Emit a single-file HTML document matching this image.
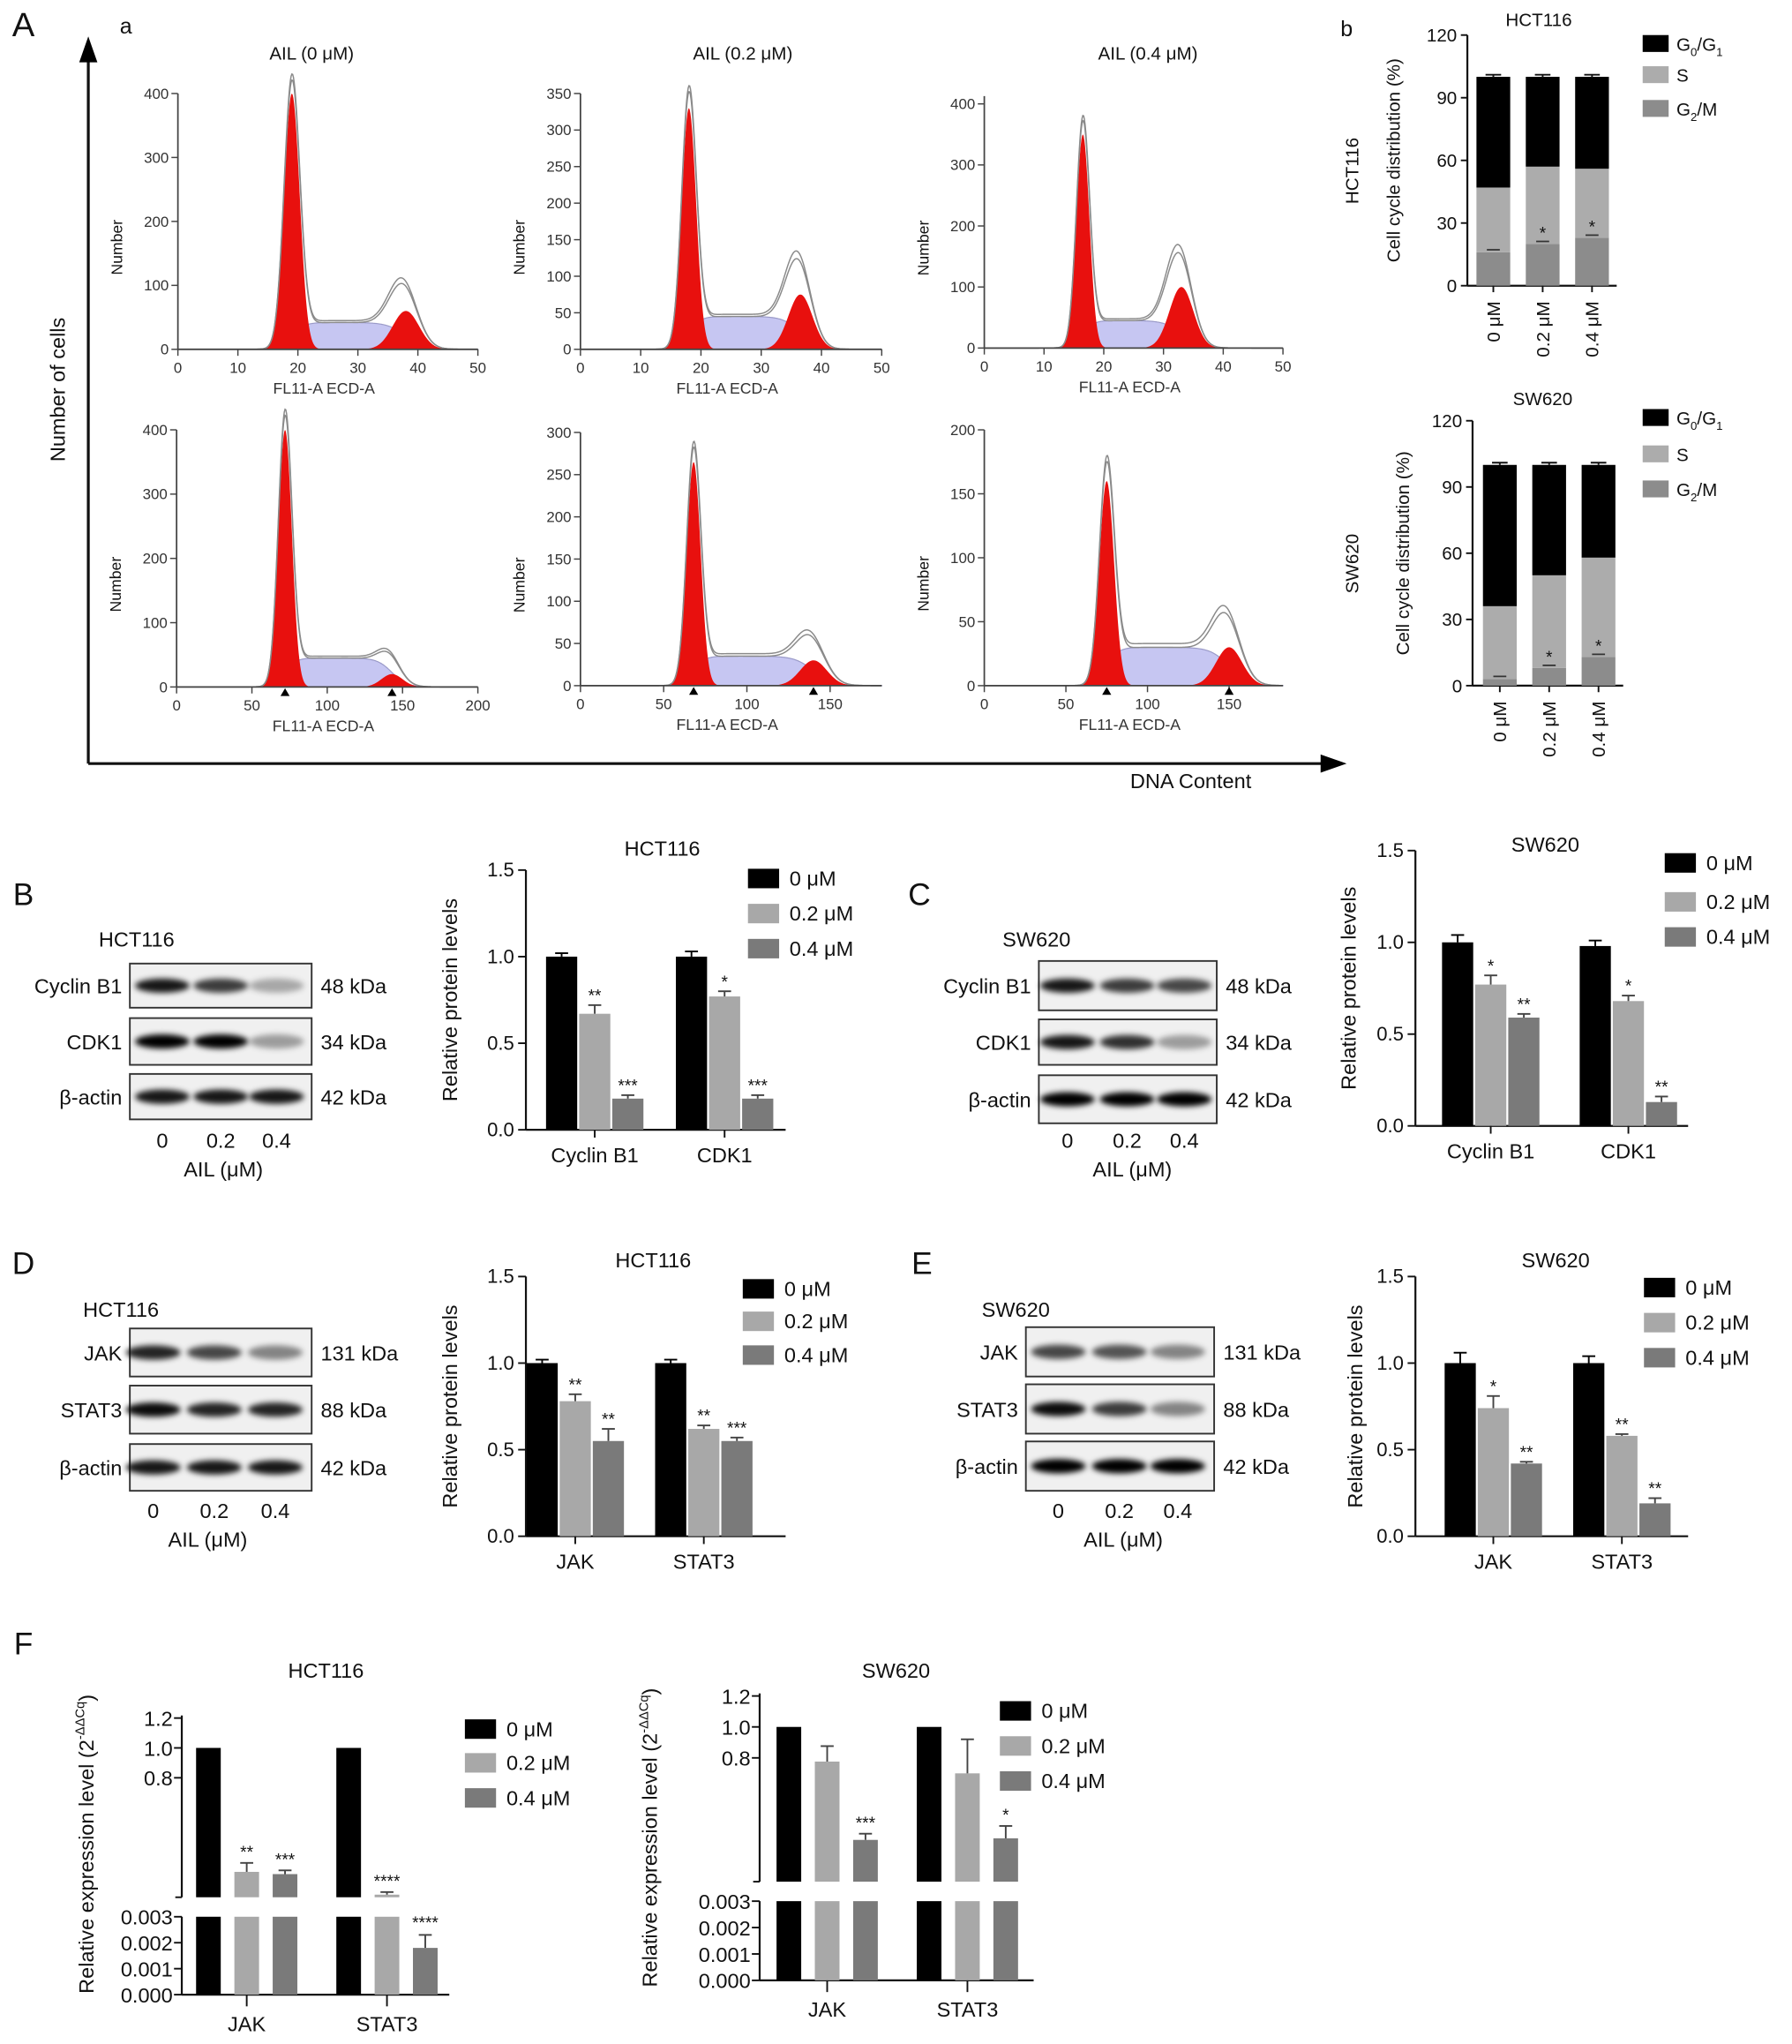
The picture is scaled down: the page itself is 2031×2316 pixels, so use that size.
<!DOCTYPE html>
<html><head><meta charset="utf-8">
<style>
html,body{margin:0;padding:0;background:#fff;}
svg{display:block;font-family:"Liberation Sans",Arial,sans-serif;}
</style></head>
<body>
<svg id="fig" width="2031" height="2316" viewBox="0 0 1380 1574" preserveAspectRatio="none" xmlns="http://www.w3.org/2000/svg">
<defs>
<filter id="blur" x="-50%" y="-100%" width="200%" height="300%"><feGaussianBlur stdDeviation="2.2"/></filter>
</defs>
</svg>
<script>
// ---------- DATA ----------
const histG1Mean=[19,18,16.5,72,68,75];
const histG1Height=[400,330,350,400,265,160];
const histG1Sd=[1.3,1.2,1.1,4.5,4.2,4.5];
const histSLevel=[42,45,45,45,35,30];
const histG2Mean=[38,36.5,33,143,140,150];
const histG2Height=[60,75,100,20,30,30];
const histG2Sd=[2.2,2,2,7,8,8];
const histTitles=['AIL  (0 \u03bcM)','AIL (0.2 \u03bcM)','AIL (0.4 \u03bcM)'];
const cycleDoses=['0 \u03bcM','0.2 \u03bcM','0.4 \u03bcM'];
const hctG2M=[16,20,23];
const hctS=[31,37,33];
const hctG0G1=[53,43,44];
const swG2M=[3,8,13];
const swS=[33,42,45];
const swG0G1=[64,50,42];
const cycleTicks=[0,30,60,90,120];
const bGroups=['Cyclin B1','CDK1'];
const bV0=[1.0,1.0];const bV2=[0.67,0.77];const bV4=[0.18,0.18];
const bE0=[0.02,0.03];const bE2=[0.05,0.03];const bE4=[0.02,0.02];
const bS2=['**','*'];const bS4=['***','***'];
const cGroups=['Cyclin B1','CDK1'];
const cV0=[1.0,0.98];const cV2=[0.77,0.68];const cV4=[0.59,0.13];
const cE0=[0.04,0.03];const cE2=[0.05,0.03];const cE4=[0.02,0.03];
const cS2=['*','*'];const cS4=['**','**'];
const dGroups=['JAK','STAT3'];
const dV0=[1.0,1.0];const dV2=[0.78,0.62];const dV4=[0.55,0.55];
const dE0=[0.02,0.02];const dE2=[0.04,0.02];const dE4=[0.07,0.02];
const dS2=['**','**'];const dS4=['**','***'];
const eGroups=['JAK','STAT3'];
const eV0=[1.0,1.0];const eV2=[0.74,0.58];const eV4=[0.42,0.19];
const eE0=[0.06,0.04];const eE2=[0.07,0.01];const eE4=[0.01,0.03];
const eS2=['*','**'];const eS4=['**','**'];
const protTicks=[0,0.5,1.0,1.5];
const fGroups=['JAK','STAT3'];
const fHV0=[1.0,1.0];const fHV2=[0.17,0.012];const fHV4=[0.155,0.0018];
const fHE2=[0.06,0.003];const fHE4=[0.025,0.0005];
const fHS2=['**','****'];const fHS4=['***','****'];
const fSV0=[1.0,1.0];const fSV2=[0.776,0.70];const fSV4=[0.27,0.28];
const fSE2=[0.10,0.22];const fSE4=[0.04,0.08];
const fSS2=['',''];const fSS4=['***','*'];
const fTopTicks=[0.8,1.0,1.2];
const fBotTicks=[0,0.001,0.002,0.003];
const legendDoses=['0 \u03bcM','0.2 \u03bcM','0.4 \u03bcM'];

// ---------- HELPERS ----------
const NS='http://www.w3.org/2000/svg';
const svg=document.getElementById('fig');
function el(tag,attrs,name,parent){
  const e=document.createElementNS(NS,tag);
  for(const k in attrs)e.setAttribute(k,attrs[k]);
  
  
  (parent||svg).appendChild(e);return e;
}
function txt(x,y,s,size,name,anchor,extra){
  const a={x:x,y:y,'font-size':size,'text-anchor':anchor||'middle',fill:'#111'};
  if(extra)for(const k in extra)a[k]=extra[k];
  const t=el('text',a,name);t.textContent=s;return t;
}
function vtxt(x,y,s,size,name,anchor){
  const t=el('text',{x:0,y:0,'font-size':size,'text-anchor':anchor||'middle',fill:'#111',transform:`translate(${x},${y}) rotate(-90)`},name);
  t.textContent=s;return t;
}
function line(x1,y1,x2,y2,name,w,c){return el('line',{x1:x1,y1:y1,x2:x2,y2:y2,stroke:c||'#111','stroke-width':w||1.3},name);}
const C0='#000',C2='#a8a8a8',C4='#7a7a7a';

// ---------- PANEL A ----------
txt(18,28,'A',26,'panel-label-a','middle');
txt(97,26,'a',17,'subpanel-label-a','middle');
line(68,588,68,42,'y-arrow-line',2.2);
el('polygon',{points:'68,28 61,48 75,48',fill:'#000'},'y-arrow-head');
line(68,588,1022,588,'x-arrow-line',2.2);
el('polygon',{points:'1037,588 1017,581 1017,595',fill:'#000'},'x-arrow-head');
vtxt(50,300,'Number of cells',16,'y-axis-title-cells');
txt(917,607,'DNA Content',16,'x-axis-title-dna');

const histLayout=[
 {x0:137,x1:368,xmax:50,y0:269,yPer:197/400,ymaxTick:400,yStep:100,xStep:10,xTickMax:50,axTop:72,tx:240},
 {x0:447,x1:679,xmax:50,y0:269,yPer:197/350,ymaxTick:350,yStep:50,xStep:10,xTickMax:50,axTop:72,tx:572},
 {x0:758,x1:988,xmax:50,y0:268,yPer:188/400,ymaxTick:400,yStep:100,xStep:10,xTickMax:50,axTop:74,tx:884},
 {x0:136,x1:368,xmax:200,y0:529,yPer:198/400,ymaxTick:400,yStep:100,xStep:50,xTickMax:200,axTop:331},
 {x0:447,x1:679,xmax:181,y0:528,yPer:195/300,ymaxTick:300,yStep:50,xStep:50,xTickMax:150,axTop:333},
 {x0:758,x1:988,xmax:183,y0:528,yPer:197/200,ymaxTick:200,yStep:50,xStep:50,xTickMax:150,axTop:331}
];
function sig(z){return 1/(1+Math.exp(-z));}
histLayout.forEach((L,i)=>{
  const sx=v=>L.x0+(v/L.xmax)*(L.x1-L.x0);
  const sy=v=>L.y0-v*L.yPer;
  const m1=histG1Mean[i],a1=histG1Height[i],s1=histG1Sd[i];
  const m2=histG2Mean[i],a2=histG2Height[i],s2=histG2Sd[i],sl=histSLevel[i];
  const N=400;let g1=[],g2=[],sp=[],tot=[],xs=[];
  for(let k=0;k<=N;k++){
    const x=L.xmax*k/N;xs.push(x);
    const a=a1*Math.exp(-((x-m1)**2)/(2*s1*s1));
    const b=a2*Math.exp(-((x-m2)**2)/(2*s2*s2));
    const s=sl*sig((x-m1)/(s1*0.8))*sig((m2-x)/(s2*0.7));
    g1.push(a);g2.push(b);sp.push(s);tot.push(a+b+s);
  }
  function area(arr,fill,name,stroke){
    let d=`M${sx(0)},${sy(0)}`;
    arr.forEach((v,k)=>{d+=`L${sx(xs[k]).toFixed(2)},${sy(v).toFixed(2)}`;});
    d+=`L${sx(L.xmax)},${sy(0)}Z`;
    return el('path',{d:d,fill:fill,stroke:stroke||'none','stroke-width':0.8},name);
  }
  area(sp,'#c6c6f2',`hist-${i+1}-s-phase`,'#9a9ac8');
  area(g1,'#e8100e',`hist-${i+1}-g1-peak`);
  area(g2,'#e8100e',`hist-${i+1}-g2-peak`);
  [0,1].forEach(j=>{
    let d='';
    tot.forEach((v,k)=>{
      const bump=(0.35+0.12*j)*a2*Math.exp(-((xs[k]-m2+s2*0.6)**2)/(2*s2*s2));
      const spk=j*0.02*g1[k];
      d+=(k?'L':'M')+sx(xs[k]).toFixed(2)+','+sy(v+bump+spk+j*3*sp[k]/sl).toFixed(2);
    });
    el('path',{d:d,fill:'none',stroke:'#8a8a8a','stroke-width':1},`hist-${i+1}-fit-line`);
  });
  line(L.x0,L.y0,L.x1,L.y0,`hist-${i+1}-x-axis`,1.2,'#444');
  line(L.x0,L.y0,L.x0,L.axTop,`hist-${i+1}-y-axis`,1.2,'#444');
  for(let v=0;v<=L.ymaxTick;v+=L.yStep){
    line(L.x0-5,sy(v),L.x0,sy(v),`hist-${i+1}-y-tick`,1,'#444');
    txt(L.x0-7,sy(v)+4,String(v),11.5,`hist-${i+1}-y-tick-label`,'end',{fill:'#333'});
  }
  for(let v=0;v<=L.xTickMax;v+=L.xStep){
    line(sx(v),L.y0,sx(v),L.y0+5,`hist-${i+1}-x-tick`,1,'#444');
    txt(sx(v),L.y0+18,String(v),11.5,`hist-${i+1}-x-tick-label`,'middle',{fill:'#333'});
  }
  txt((L.x0+L.x1)/2-3,L.y0+34,'FL11-A ECD-A',12,`hist-${i+1}-x-title`,'middle',{fill:'#333'});
  vtxt(L.x0-43,(L.y0+L.axTop)/2+20,'Number',12,`hist-${i+1}-y-title`);
  if(i>=3){
    el('polygon',{points:`${sx(m1)},${L.y0+1} ${sx(m1)-3.5},${L.y0+7} ${sx(m1)+3.5},${L.y0+7}`,fill:'#000'},`hist-${i+1}-g1-marker`);
    el('polygon',{points:`${sx(m2)},${L.y0+1} ${sx(m2)-3.5},${L.y0+7} ${sx(m2)+3.5},${L.y0+7}`,fill:'#000'},`hist-${i+1}-g2-marker`);
  }
  if(i<3)txt(L.tx,46,histTitles[i],14,`hist-title-${i+1}`);
});

// ---------- PANEL b ----------
txt(1037,28,'b',17,'subpanel-label-b');
function stacked(cfg){
  const sy=v=>cfg.y0-(v/120)*(cfg.y0-cfg.yTop);
  line(cfg.ax,cfg.y0,cfg.ax,cfg.yTop,cfg.n+'-y-axis',1.5);
  line(cfg.ax,cfg.y0,cfg.axEnd,cfg.y0,cfg.n+'-x-axis',1.5);
  cycleTicks.forEach(t=>{line(cfg.ax-5,sy(t),cfg.ax,sy(t),cfg.n+'-y-tick',1.3);
    txt(cfg.ax-8,sy(t)+5,String(t),14,cfg.n+'-y-tick-label','end');});
  cycleDoses.forEach((d,k)=>{
    const cx=cfg.centers[k],w=26;
    const a=cfg.g2[k],b=cfg.s[k],c=cfg.g1[k];
    el('rect',{x:cx-w/2,y:sy(a),width:w,height:sy(0)-sy(a),fill:'#8c8c8c'},cfg.n+'-bar-g2m');
    el('rect',{x:cx-w/2,y:sy(a+b),width:w,height:sy(a)-sy(a+b),fill:'#acacac'},cfg.n+'-bar-s');
    el('rect',{x:cx-w/2,y:sy(a+b+c),width:w,height:sy(a+b)-sy(a+b+c),fill:'#000'},cfg.n+'-bar-g0g1');
    line(cx-6,sy(a+b+c+1),cx+6,sy(a+b+c+1),cfg.n+'-err-cap',1.3);
    line(cx,sy(a+b+c),cx,sy(a+b+c+1),cfg.n+'-err',1.3);
    line(cx-5,sy(a+1.2),cx+5,sy(a+1.2),cfg.n+'-err-cap-g2m',1.2,'#333');
    if(k>0)txt(cx,sy(a)-4,'*',13,cfg.n+'-star');
    line(cx,cfg.y0,cx,cfg.y0+5,cfg.n+'-x-tick',1.3);
    vtxt(cx+5,cfg.y0+12,d,14,cfg.n+'-x-label','end');
  });
  txt(cfg.tx,cfg.ty,cfg.title,14,cfg.n+'-title');
  vtxt(cfg.yt,(cfg.y0+cfg.yTop)/2,'Cell cycle distribution (%)',14,cfg.n+'-y-title');
  vtxt(1046,(cfg.y0+cfg.yTop)/2+8,cfg.title,14,cfg.n+'-row-label');
  const lg=[['#000','G','0','/G','1'],['#acacac','S'],['#8c8c8c','G','2','/M']];
  lg.forEach((g,k)=>{
    const y=cfg.ly[k];
    el('rect',{x:1265,y:y-7,width:20,height:13,fill:g[0]},cfg.n+'-legend-swatch');
    const t=el('text',{x:1291,y:y+5,'font-size':14,fill:'#111'},cfg.n+'-legend-label');
    if(g.length===2){t.textContent=g[1];}
    else{
      for(let m=1;m<g.length;m++){
        const ts=document.createElementNS(NS,'tspan');
        ts.textContent=g[m];
        if(m%2===0){ts.setAttribute('font-size','9');ts.setAttribute('dy','4');}
        else if(m>1){ts.setAttribute('dy','-4');}
        t.appendChild(ts);
      }
    }
  });
}
stacked({n:'cycle-hct116',ax:1130,axEnd:1245,y0:220,yTop:27,centers:[1150,1188,1226],g2:hctG2M,s:hctS,g1:hctG0G1,tx:1185,ty:20,title:'HCT116',yt:1078,ly:[34,58,84]});
stacked({n:'cycle-sw620',ax:1134,axEnd:1250,y0:528,yTop:324,centers:[1155,1193,1231],g2:swG2M,s:swS,g1:swG0G1,tx:1188,ty:312,title:'SW620',yt:1085,ly:[322,350,377]});

// ---------- BLOTS ----------
function blot(cfg){
  txt(cfg.lx,cfg.ly,cfg.cell,16,cfg.n+'-cell-label','start');
  cfg.rows.forEach((r,ri)=>{
    const y0=r[1],h=r[2]-r[1];
    el('rect',{x:cfg.x0,y:y0,width:cfg.x1-cfg.x0,height:h,fill:'#f0f0f0',stroke:'#333','stroke-width':1.3},cfg.n+'-blot-box');
    cfg.lanes.forEach((lx,li)=>{
      const v=r[3][li];
      el('ellipse',{cx:lx,cy:y0+h/2,rx:21,ry:5.5,fill:`rgba(0,0,0,${v})`,filter:'url(#blur)'},cfg.n+'-band');
    });
    txt(cfg.x0-6,y0+h/2+6,r[0],16,cfg.n+'-protein-label','end');
    txt(cfg.x1+7,y0+h/2+6,r[4],16,cfg.n+'-kda-label','start');
  });
  ['0','0.2','0.4'].forEach((d,k)=>txt(cfg.lanes[k],cfg.dy,d,16,cfg.n+'-dose-label'));
  txt(cfg.ax,cfg.dy+22,'AIL (\u03bcM)',16,cfg.n+'-dose-title');
}
blot({n:'blot-b',cell:'HCT116',lx:76,ly:729,x0:100,x1:240,lanes:[125,170,213],dy:884,ax:172,rows:[
 ['Cyclin B1',742,776,[0.9,0.75,0.3],'48 kDa'],['CDK1',784,820,[1,1,0.35],'34 kDa'],['\u03b2-actin',827,862,[0.9,0.9,0.9],'42 kDa']]});
blot({n:'blot-c',cell:'SW620',lx:772,ly:729,x0:800,x1:937,lanes:[822,868,912],dy:884,ax:872,rows:[
 ['Cyclin B1',740,778,[0.9,0.75,0.7],'48 kDa'],['CDK1',785,820,[0.9,0.8,0.35],'34 kDa'],['\u03b2-actin',828,865,[1,1,1],'42 kDa']]});
blot({n:'blot-d',cell:'HCT116',lx:64,ly:1014,x0:100,x1:240,lanes:[118,165,212],dy:1169,ax:160,rows:[
 ['JAK',1023,1060,[0.85,0.7,0.45],'131 kDa'],['STAT3',1067,1104,[0.95,0.85,0.85],'88 kDa'],['\u03b2-actin',1112,1148,[0.9,0.9,0.9],'42 kDa']]});
blot({n:'blot-e',cell:'SW620',lx:756,ly:1014,x0:790,x1:935,lanes:[815,862,907],dy:1169,ax:865,rows:[
 ['JAK',1022,1060,[0.7,0.65,0.45],'131 kDa'],['STAT3',1066,1104,[0.95,0.75,0.45],'88 kDa'],['\u03b2-actin',1110,1148,[1,1,1],'42 kDa']]});
txt(18,697,'B',24,'panel-label-b');
txt(708,697,'C',24,'panel-label-c');
txt(18,981,'D',24,'panel-label-d');
txt(710,981,'E',24,'panel-label-e');
txt(18,1274,'F',24,'panel-label-f');

// ---------- PROTEIN BAR CHARTS ----------
function legend(n,x,ys){
  const cols=[C0,C2,C4];
  legendDoses.forEach((d,k)=>{
    el('rect',{x:x,y:ys[k]-7,width:24,height:15,fill:cols[k]},n+'-legend-swatch');
    txt(x+32,ys[k]+6,d,16,n+'-legend-label','start');
  });
}
function barChart(cfg){
  const sy=v=>cfg.y0-(v/1.5)*(cfg.y0-cfg.yTop);
  line(cfg.ax,cfg.y0,cfg.ax,cfg.yTop,cfg.n+'-y-axis',1.5);
  line(cfg.ax,cfg.y0,cfg.axEnd,cfg.y0,cfg.n+'-x-axis',1.5);
  protTicks.forEach(t=>{line(cfg.ax-6,sy(t),cfg.ax,sy(t),cfg.n+'-y-tick',1.3);
    txt(cfg.ax-9,sy(t)+5,t.toFixed(1),15,cfg.n+'-y-tick-label','end');});
  const cols=[C0,C2,C4];
  cfg.groups.forEach((g,gi)=>{
    const c=cfg.centers[gi];
    const vals=[cfg.v0[gi],cfg.v2[gi],cfg.v4[gi]],errs=[cfg.e0[gi],cfg.e2[gi],cfg.e4[gi]],st=['',cfg.s2[gi],cfg.s4[gi]];
    vals.forEach((v,k)=>{
      const bx=c+(k-1)*25.5;
      el('rect',{x:bx-12,y:sy(v),width:24,height:sy(0)-sy(v),fill:cols[k]},cfg.n+'-bar');
      const top=sy(v+errs[k]);
      line(bx,sy(v),bx,top,cfg.n+'-err',1.3,k?'#444':'#000');
      line(bx-5,top,bx+5,top,cfg.n+'-err-cap',1.3,k?'#444':'#000');
      if(st[k])txt(bx,top-3,st[k],13,cfg.n+'-star');
    });
    line(c,cfg.y0,c,cfg.y0+6,cfg.n+'-x-tick',1.3);
    txt(c,cfg.y0+25,g,16,cfg.n+'-x-label');
  });
  txt(cfg.tx,cfg.ty,cfg.title,16,cfg.n+'-title');
  vtxt(cfg.yt,(cfg.y0+cfg.yTop)/2,'Relative protein levels',16,cfg.n+'-y-title');
  legend(cfg.n,cfg.lx,cfg.ly);
}
barChart({n:'chart-b',ax:405,axEnd:605,y0:870,yTop:670,centers:[458,558],groups:bGroups,v0:bV0,v2:bV2,v4:bV4,e0:bE0,e2:bE2,e4:bE4,s2:bS2,s4:bS4,title:'HCT116',tx:510,ty:659,yt:352,lx:576,ly:[676,703,730]});
barChart({n:'chart-c',ax:1090,axEnd:1300,y0:867,yTop:655,centers:[1148,1254],groups:cGroups,v0:cV0,v2:cV2,v4:cV4,e0:cE0,e2:cE2,e4:cE4,s2:cS2,s4:cS4,title:'SW620',tx:1190,ty:656,yt:1044,lx:1282,ly:[664,694,721]});
barChart({n:'chart-d',ax:405,axEnd:605,y0:1183,yTop:983,centers:[443,542],groups:dGroups,v0:dV0,v2:dV2,v4:dV4,e0:dE0,e2:dE2,e4:dE4,s2:dS2,s4:dS4,title:'HCT116',tx:503,ty:976,yt:352,lx:572,ly:[992,1017,1043]});
barChart({n:'chart-e',ax:1090,axEnd:1300,y0:1183,yTop:983,centers:[1150,1249],groups:eGroups,v0:eV0,v2:eV2,v4:eV4,e0:eE0,e2:eE2,e4:eE4,s2:eS2,s4:eS4,title:'SW620',tx:1198,ty:976,yt:1049,lx:1266,ly:[991,1018,1045]});

// ---------- PANEL F (broken axis) ----------
function brokenChart(cfg){
  const syT=v=>cfg.tZero-v*(cfg.tZero-cfg.t12)/1.2;
  const syB=v=>cfg.bZero-v*(cfg.bZero-cfg.b3)/0.003;
  line(cfg.ax,cfg.t12-2,cfg.ax,cfg.tZero,cfg.n+'-y-axis-top',1.5);
  line(cfg.ax,cfg.b3,cfg.ax,cfg.bZero,cfg.n+'-y-axis-bottom',1.5);
  line(cfg.ax,cfg.bZero,cfg.axEnd,cfg.bZero,cfg.n+'-x-axis',1.5);
  line(cfg.ax-5,cfg.tZero,cfg.ax,cfg.tZero,cfg.n+'-break-tick',1.3);
  fTopTicks.forEach(t=>{line(cfg.ax-6,syT(t),cfg.ax,syT(t),cfg.n+'-y-tick',1.3);
    txt(cfg.ax-7,syT(t)+6,t.toFixed(1),16,cfg.n+'-y-tick-label','end');});
  fBotTicks.forEach(t=>{line(cfg.ax-6,syB(t),cfg.ax,syB(t),cfg.n+'-y-tick',1.3);
    txt(cfg.ax-7,syB(t)+6,t.toFixed(3),16,cfg.n+'-y-tick-label','end');});
  const cols=[C0,C2,C4];
  cfg.groups.forEach((g,gi)=>{
    const vals=[cfg.v0[gi],cfg.v2[gi],cfg.v4[gi]],errs=[0,cfg.e2[gi],cfg.e4[gi]],st=['',cfg.s2[gi],cfg.s4[gi]];
    vals.forEach((v,k)=>{
      const bx=cfg.centers[gi]+(k-1)*cfg.step;
      const bt=v>=0.003?syB(0.003):syB(v);
      el('rect',{x:bx-cfg.bw/2,y:bt,width:cfg.bw,height:cfg.bZero-bt,fill:cols[k]},cfg.n+'-bar-lower');
      if(v>=0.003){
        const yt=Math.min(syT(v),cfg.tZero-2);
        el('rect',{x:bx-cfg.bw/2,y:yt,width:cfg.bw,height:cfg.tZero-yt,fill:cols[k]},cfg.n+'-bar-upper');
        if(errs[k]){const top=Math.min(syT(v+errs[k]),yt-2);
          line(bx,yt,bx,top,cfg.n+'-err',1.3,'#444');line(bx-5,top,bx+5,top,cfg.n+'-err-cap',1.3,'#444');
          if(st[k])txt(bx,top-4,st[k],13,cfg.n+'-star');}
      }else{
        const top=syB(v+errs[k]);
        line(bx,syB(v),bx,top,cfg.n+'-err',1.3,'#444');line(bx-5,top,bx+5,top,cfg.n+'-err-cap',1.3,'#444');
        if(st[k])txt(bx,top-5,st[k],13,cfg.n+'-star');
      }
    });
    line(cfg.centers[gi],cfg.bZero,cfg.centers[gi],cfg.bZero+9,cfg.n+'-x-tick',1.3);
    txt(cfg.centers[gi],cfg.bZero+28,g,16,cfg.n+'-x-label');
  });
  txt(cfg.tx,1292,cfg.title,16,cfg.n+'-title');
  const t=el('text',{x:0,y:0,'font-size':16,'text-anchor':'middle',fill:'#111',transform:`translate(${cfg.yt},${cfg.ytc}) rotate(-90)`},cfg.n+'-y-title');
  t.textContent='Relative expression level (2';
  const sup=document.createElementNS(NS,'tspan');sup.setAttribute('font-size','10');sup.setAttribute('dy','-7');sup.textContent='-\u0394\u0394Cq';t.appendChild(sup);
  const cl=document.createElementNS(NS,'tspan');cl.setAttribute('dy','7');cl.textContent=')';t.appendChild(cl);
  legend(cfg.n,cfg.lx,cfg.ly);
}
brokenChart({n:'chart-f-hct116',ax:140,axEnd:346,t12:1323,tZero:1461,b3:1476,bZero:1536,centers:[190,298],step:29.5,bw:19,groups:fGroups,
 v0:fHV0,v2:fHV2,v4:fHV4,e2:fHE2,e4:fHE4,s2:fHS2,s4:fHS4,title:'HCT116',tx:251,yt:72,ytc:1420,lx:358,ly:[1331,1357,1384]});
brokenChart({n:'chart-f-sw620',ax:585,axEnd:796,t12:1306,tZero:1449,b3:1464,bZero:1525,centers:[637,745],step:29.5,bw:19,groups:fGroups,
 v0:fSV0,v2:fSV2,v4:fSV4,e2:fSE2,e4:fSE4,s2:fSS2,s4:fSS4,title:'SW620',tx:690,yt:506,ytc:1415,lx:770,ly:[1317,1344,1371]});
</script>
</body></html>
